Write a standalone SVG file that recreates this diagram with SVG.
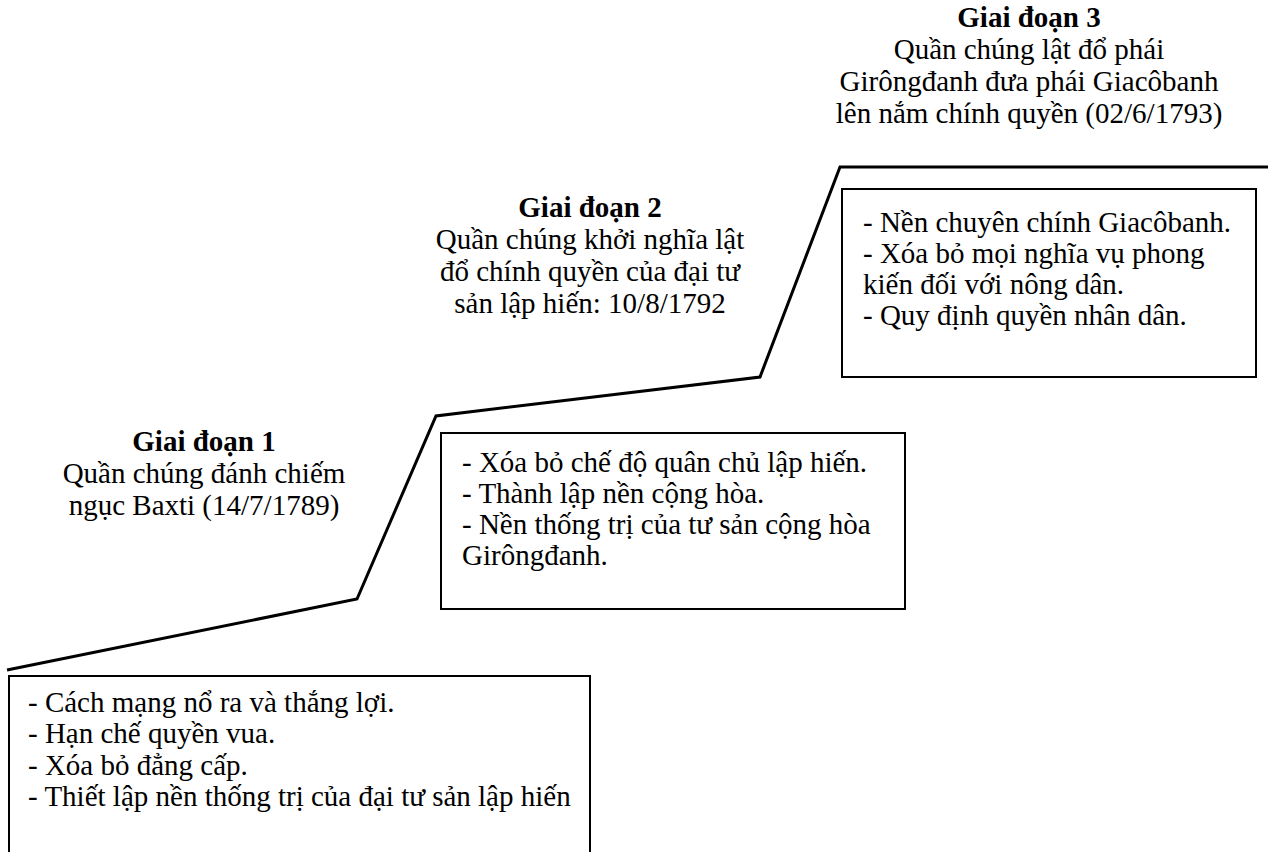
<svg xmlns="http://www.w3.org/2000/svg" width="1268" height="852" viewBox="0 0 1268 852">
  <style>
    text { font-family: 'Liberation Serif', 'Times New Roman', Times, serif; font-size: 29px; fill: #000; }
    .title { font-weight: bold; }
    .mid { text-anchor: middle; }
    .box { fill: #fff; stroke: #000; stroke-width: 2; }
    .stair { fill: none; stroke: #000; stroke-width: 3; stroke-linejoin: miter; }
  </style>
  <rect width="1268" height="852" fill="#fff"/>

  <!-- staircase of the three stages -->
  <g id="connectors">
    <polyline class="stair" points="7,670 357,599 436,416 760,377 840,167 1268,167"/>
  </g>

  <g id="stage1-label">
    <text class="title mid" x="204" y="451">Giai đoạn 1</text>
    <text class="mid" x="204" y="483">Quần chúng đánh chiếm</text>
    <text class="mid" x="204" y="515">ngục Baxti (14/7/1789)</text>
  </g>

  <g id="stage1-box">
    <path class="box" d="M9,853 V676 H590 V853"/>
    <text x="28" y="712">- Cách mạng nổ ra và thắng lợi.</text>
    <text x="28" y="743">- Hạn chế quyền vua.</text>
    <text x="28" y="775">- Xóa bỏ đẳng cấp.</text>
    <text x="28" y="806">- Thiết lập nền thống trị của đại tư sản lập hiến</text>
  </g>

  <g id="stage2-label">
    <text class="title mid" x="590" y="217">Giai đoạn 2</text>
    <text class="mid" x="590" y="249">Quần chúng khởi nghĩa lật</text>
    <text class="mid" x="590" y="281">đổ chính quyền của đại tư</text>
    <text class="mid" x="590" y="313">sản lập hiến: 10/8/1792</text>
  </g>

  <g id="stage2-box">
    <rect class="box" x="441" y="433" width="464" height="176"/>
    <text x="462" y="472">- Xóa bỏ chế độ quân chủ lập hiến.</text>
    <text x="462" y="503">- Thành lập nền cộng hòa.</text>
    <text x="462" y="534">- Nền thống trị của tư sản cộng hòa</text>
    <text x="462" y="565">Girôngđanh.</text>
  </g>

  <g id="stage3-label">
    <text class="title mid" x="1029" y="27">Giai đoạn 3</text>
    <text class="mid" x="1029" y="59">Quần chúng lật đổ phái</text>
    <text class="mid" x="1029" y="91">Girôngđanh đưa phái Giacôbanh</text>
    <text class="mid" x="1029" y="123">lên nắm chính quyền (02/6/1793)</text>
  </g>

  <g id="stage3-box">
    <rect class="box" x="842" y="189" width="414" height="188"/>
    <text x="863" y="232">- Nền chuyên chính Giacôbanh.</text>
    <text x="863" y="263">- Xóa bỏ mọi nghĩa vụ phong</text>
    <text x="863" y="294">kiến đối với nông dân.</text>
    <text x="863" y="325">- Quy định quyền nhân dân.</text>
  </g>
</svg>
